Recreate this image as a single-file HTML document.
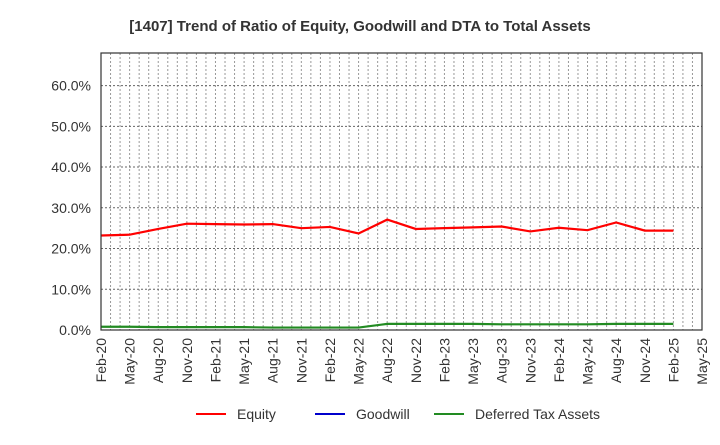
<!DOCTYPE html>
<html><head><meta charset="utf-8"><style>
body{margin:0;background:#fff;font-family:"Liberation Sans",sans-serif}
</style></head><body>
<svg id="c" width="720" height="440" xmlns="http://www.w3.org/2000/svg" font-family="Liberation Sans, sans-serif">
<text x="360" y="31" text-anchor="middle" font-size="15" font-weight="bold" fill="#333">[1407]  Trend of Ratio of Equity, Goodwill and DTA to Total Assets</text>
<g id="grid"></g><g id="series"></g><g id="axes"></g>
<g font-size="14" fill="#333">
<line x1="196" y1="414" x2="226" y2="414" stroke="#ff0000" stroke-width="2"/><text x="237" y="419">Equity</text>
<line x1="315" y1="414" x2="345" y2="414" stroke="#0000cc" stroke-width="2"/><text x="356" y="419">Goodwill</text>
<line x1="434" y1="414" x2="464" y2="414" stroke="#228b22" stroke-width="2"/><text x="475" y="419">Deferred Tax Assets</text>
</g>
</svg>
<script>
const xLabels=["Feb-20","May-20","Aug-20","Nov-20","Feb-21","May-21","Aug-21","Nov-21","Feb-22","May-22","Aug-22","Nov-22","Feb-23","May-23","Aug-23","Nov-23","Feb-24","May-24","Aug-24","Nov-24","Feb-25","May-25"];
const yTicks=[0,10,20,30,40,50,60];
const equity=[23.2,23.4,24.8,26.1,26.0,25.9,26.0,25.0,25.3,23.7,27.1,24.8,25.0,25.2,25.4,24.2,25.1,24.5,26.4,24.4,24.4];
const dta=[0.8,0.8,0.7,0.7,0.7,0.7,0.6,0.6,0.6,0.6,1.5,1.5,1.5,1.5,1.4,1.4,1.4,1.4,1.5,1.5,1.5];
const L=101,R=702,T=53,B=330,YMAX=68;
const NS="http://www.w3.org/2000/svg";
const xq=i=>L+(R-L)*i/21;
const y=v=>B-(B-T)*v/YMAX;
function mk(tag,attrs,parent){const e=document.createElementNS(NS,tag);for(const k in attrs)e.setAttribute(k,attrs[k]);parent.appendChild(e);return e;}
const grid=document.getElementById('grid'),axes=document.getElementById('axes'),ser=document.getElementById('series');
for(let m=1;m<63;m++){const x=L+(R-L)*m/63;const l=mk('line',{x1:x,x2:x,y1:T,y2:B,stroke:'#999','stroke-dasharray':'2,2','stroke-width':1},grid);

}
yTicks.forEach(v=>{if(v>0){const l=mk('line',{x1:L,x2:R,y1:y(v),y2:y(v),stroke:'#666','stroke-dasharray':'2,2','stroke-width':1},grid);

}
const t=mk('text',{x:91,y:y(v)+5,'text-anchor':'end','font-size':14,fill:'#333'},axes);t.textContent=v.toFixed(1)+'%';

});
xLabels.forEach((s,i)=>{const x=xq(i);const t=mk('text',{x:x+5,y:338,'text-anchor':'end','font-size':14,fill:'#333',transform:`rotate(-90 ${x+5} 338)`},axes);t.textContent=s;

});
const fr=mk('rect',{x:L,y:T,width:R-L,height:B-T,fill:'none',stroke:'#333','stroke-width':1.2},axes);


function line(d,c,n){const p=mk('polyline',{points:d.map((v,i)=>xq(i)+','+y(v)).join(' '),fill:'none',stroke:c,'stroke-width':2.2},ser);

}
line(dta,'#228b22','dta-line');
line(equity,'#ff0000','equity-line');
</script>
</body></html>
